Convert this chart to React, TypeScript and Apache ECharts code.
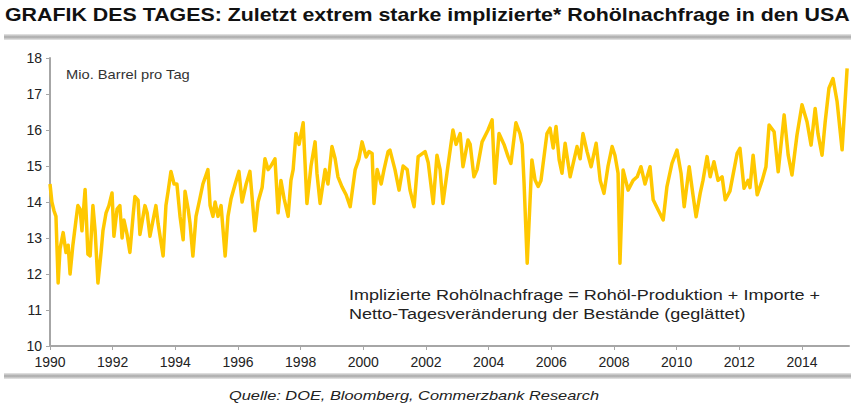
import React, { useEffect, useRef } from "react";
import * as echarts from "echarts";

const TITLE = "GRAFIK DES TAGES: Zuletzt extrem starke implizierte* Rohölnachfrage in den USA";
const UNIT = "Mio. Barrel pro Tag";
const NOTE_1 = "Implizierte Rohölnachfrage = Rohöl-Produktion + Importe +";
const NOTE_2 = "Netto-Tagesveränderung der Bestände (geglättet)";
const SOURCE = "Quelle: DOE, Bloomberg, Commerzbank Research";

// decimal years of the read points
const years = [
  1990.0, 1990.06, 1990.13, 1990.19, 1990.26, 1990.32, 1990.42, 1990.51, 1990.58, 1990.64,
  1990.73, 1990.83, 1990.89, 1990.96, 1991.02, 1991.12, 1991.21, 1991.28, 1991.37, 1991.44,
  1991.53, 1991.63, 1991.69, 1991.79, 1991.88, 1991.98, 1992.04, 1992.14, 1992.23, 1992.3,
  1992.36, 1992.46, 1992.55, 1992.65, 1992.71, 1992.81, 1992.87, 1992.97, 1993.03, 1993.1,
  1993.19, 1993.29, 1993.38, 1993.45, 1993.61, 1993.7, 1993.77, 1993.86, 1993.96, 1994.05,
  1994.15, 1994.25, 1994.31, 1994.41, 1994.47, 1994.56, 1994.66, 1994.76, 1994.88, 1995.04,
  1995.11, 1995.2, 1995.27, 1995.36, 1995.46, 1995.59, 1995.68, 1995.78, 1995.91, 1996.03,
  1996.13, 1996.26, 1996.38, 1996.54, 1996.64, 1996.77, 1996.86, 1996.96, 1997.05, 1997.18,
  1997.28, 1997.37, 1997.47, 1997.6, 1997.69, 1997.76, 1997.85, 1997.95, 1998.08, 1998.2,
  1998.33, 1998.46, 1998.52, 1998.62, 1998.78, 1998.87, 1999.0, 1999.1, 1999.19, 1999.32,
  1999.45, 1999.58, 1999.74, 1999.86, 1999.96, 2000.09, 2000.18, 2000.28, 2000.34, 2000.44,
  2000.57, 2000.66, 2000.79, 2000.85, 2001.01, 2001.14, 2001.27, 2001.4, 2001.49, 2001.62,
  2001.75, 2001.97, 2002.07, 2002.23, 2002.35, 2002.45, 2002.54, 2002.7, 2002.86, 2002.96,
  2003.09, 2003.18, 2003.34, 2003.41, 2003.53, 2003.63, 2003.79, 2003.98, 2004.11, 2004.2,
  2004.33, 2004.49, 2004.62, 2004.71, 2004.87, 2005.0, 2005.07, 2005.13, 2005.23, 2005.38,
  2005.48, 2005.58, 2005.67, 2005.86, 2005.96, 2006.06, 2006.15, 2006.25, 2006.34, 2006.44,
  2006.6, 2006.82, 2006.92, 2007.01, 2007.14, 2007.27, 2007.43, 2007.56, 2007.68, 2007.81,
  2007.94, 2008.03, 2008.13, 2008.19, 2008.29, 2008.45, 2008.61, 2008.74, 2008.86, 2008.99,
  2009.15, 2009.25, 2009.41, 2009.57, 2009.69, 2009.85, 2010.01, 2010.14, 2010.24, 2010.4,
  2010.52, 2010.62, 2010.75, 2010.84, 2010.97, 2011.07, 2011.19, 2011.32, 2011.45, 2011.55,
  2011.7, 2011.93, 2012.02, 2012.15, 2012.28, 2012.34, 2012.44, 2012.57, 2012.73, 2012.85,
  2012.95, 2013.11, 2013.24, 2013.43, 2013.56, 2013.68, 2013.84, 2014.0, 2014.16, 2014.29,
  2014.42, 2014.51, 2014.64, 2014.74, 2014.86, 2014.99, 2015.12, 2015.28, 2015.44,
];

// implied crude demand, million barrels per day
const demand = [
  14.5, 14.0, 13.75, 13.6, 11.75, 12.7, 13.15, 12.6, 12.8, 12.0,
  12.8, 13.5, 13.9, 13.8, 13.2, 14.35, 12.55, 12.5, 13.9, 13.2,
  11.75, 12.6, 13.2, 13.7, 13.9, 14.25, 13.05, 13.8, 13.9, 13.0,
  13.5, 13.1, 12.6, 13.6, 14.15, 14.05, 13.1, 13.6, 13.9, 13.7,
  13.05, 13.5, 13.9, 13.4, 12.5, 13.9, 14.3, 14.85, 14.5, 14.5,
  13.6, 12.95, 14.3, 13.8, 13.4, 12.5, 13.6, 14.0, 14.5, 14.9,
  13.9, 13.6, 14.0, 13.6, 13.9, 12.5, 13.6, 14.1, 14.5, 14.85,
  14.0, 14.5, 14.85, 13.2, 14.0, 14.4, 15.2, 14.9, 15.0, 15.2,
  13.7, 14.6, 14.1, 13.6, 14.6, 14.9, 15.9, 15.6, 16.2, 13.96,
  15.0, 15.67, 14.8, 13.96, 14.9, 14.5, 15.54, 15.2, 14.7, 14.42,
  14.2, 13.87, 14.9, 15.2, 15.67, 15.25, 15.4, 15.35, 13.96, 14.9,
  14.5, 14.9, 15.4, 15.44, 14.9, 14.33, 15.0, 14.9, 14.33, 13.87,
  15.26, 15.4, 15.1, 13.96, 15.3, 14.9, 13.96, 15.0, 16.0, 15.6,
  15.9, 14.98, 15.72, 15.6, 14.7, 14.9, 15.67, 16.0, 16.28, 14.52,
  15.9, 15.6, 15.26, 15.07, 16.2, 15.9, 15.6, 14.52, 12.3, 15.17,
  14.61, 14.43, 14.6, 15.9, 16.05, 15.5, 16.1, 15.17, 14.8, 15.63,
  14.7, 15.54, 15.2, 15.9, 15.4, 14.98, 15.63, 14.6, 14.24, 15.0,
  15.54, 15.3, 14.8, 12.3, 14.89, 14.33, 14.6, 14.7, 14.98, 14.5,
  14.98, 14.06, 13.78, 13.5, 14.43, 15.07, 15.44, 14.8, 13.87, 14.98,
  14.2, 13.59, 14.24, 14.6, 15.26, 14.7, 15.12, 14.6, 14.7, 14.06,
  14.3, 15.35, 15.49, 14.38, 14.6, 14.4, 15.3, 14.2, 14.6, 14.98,
  16.14, 15.95, 14.84, 16.42, 15.3, 14.75, 15.86, 16.7, 16.23, 15.58,
  16.6, 15.9, 15.3, 16.23, 17.16, 17.43, 16.79, 15.45, 17.71,
];

const Y_MIN = 10;
const Y_MAX = 18;
const Y_STEP = 1;
const X_MIN = 1990;
const X_MAX = 2015.5;
const X_STEP = 2;

const FONT = "'Liberation Sans', Arial, sans-serif";
const AXIS_GREY = "#a6a6a6";
const GOLD = "#ffc800";

function barFill() {
  return new echarts.graphic.LinearGradient(0, 0, 0, 1, [
    { offset: 0, color: "#e8e8e8" },
    { offset: 0.5, color: "#a8a8a8" },
    { offset: 1, color: "#e8e8e8" },
  ]);
}

function label(text: string, x: number, y: number, font: string, scaleX: number, fill = "#222") {
  return {
    type: "text",
    x,
    y,
    scaleX,
    style: { text, x: 0, y: 0, fill, font, textVerticalAlign: "top" },
  };
}

export default function App() {
  const ref = useRef<HTMLDivElement>(null);

  useEffect(() => {
    if (!ref.current) return;
    const chart = echarts.init(ref.current, undefined, { renderer: "svg" });
    const data = years.map((y, i) => [y, demand[i]]);
    chart.setOption({
      animation: false,
      backgroundColor: "#ffffff",
      grid: { left: 50, right: 2, top: 58, bottom: 59, containLabel: false },
      xAxis: {
        type: "value",
        min: X_MIN,
        max: X_MAX,
        interval: X_STEP,
        splitLine: { show: false },
        axisLine: { show: true, lineStyle: { color: AXIS_GREY, width: 2 } },
        axisTick: { show: true, length: 4, lineStyle: { color: AXIS_GREY, width: 1 } },
        axisLabel: {
          color: "#222",
          fontSize: 14,
          fontFamily: FONT,
          margin: 9,
          showMaxLabel: false,
          formatter: (v: number) => (Number.isInteger(v) ? String(v) : ""),
        },
      },
      yAxis: {
        type: "value",
        min: Y_MIN,
        max: Y_MAX,
        interval: Y_STEP,
        splitLine: { show: false },
        axisLine: { show: true, lineStyle: { color: AXIS_GREY, width: 2 } },
        axisTick: { show: true, length: 4, lineStyle: { color: AXIS_GREY, width: 1 } },
        axisLabel: { color: "#222", fontSize: 14, fontFamily: FONT, margin: 8 },
      },
      series: [
        {
          type: "line",
          data,
          showSymbol: false,
          symbol: "none",
          lineStyle: { color: GOLD, width: 3.5, join: "round" },
          z: 3,
        },
      ],
      graphic: [
        label(TITLE, 5, 6, `bold 18px ${FONT}`, 1.187, "#111"),
        { type: "rect", shape: { x: 4, y: 34, width: 847, height: 6 }, style: { fill: barFill() } },
        { type: "rect", shape: { x: 4, y: 373, width: 847, height: 6 }, style: { fill: barFill() } },
        label(UNIT, 66, 68, `13px ${FONT}`, 1.13, "#333"),
        label(NOTE_1, 349, 288, `14px ${FONT}`, 1.287),
        label(NOTE_2, 349, 307, `14px ${FONT}`, 1.287),
        label(SOURCE, 229, 389, `italic 13px ${FONT}`, 1.26),
      ],
    });
    return () => chart.dispose();
  }, []);

  return (
    <div
      ref={ref}
      style={{ position: "absolute", left: 0, top: 0, width: 851, height: 405, background: "#fff" }}
    />
  );
}
